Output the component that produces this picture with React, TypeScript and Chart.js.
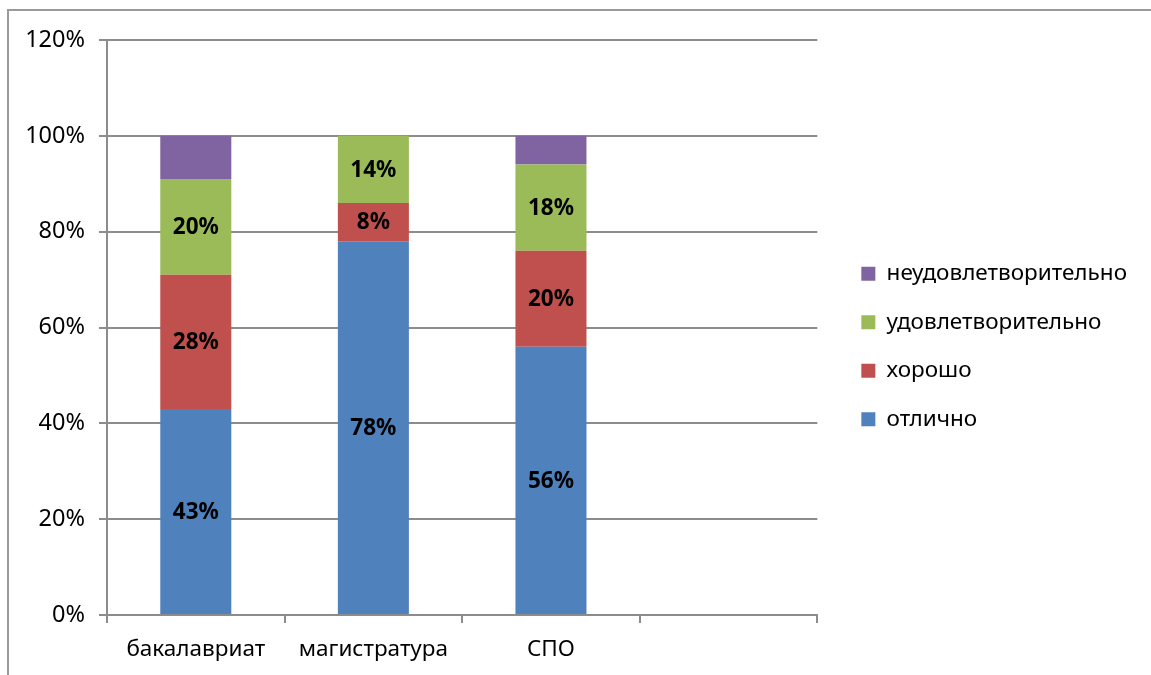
import React, { useEffect, useRef } from 'react';
import { Chart, registerables } from 'chart.js';

Chart.register(...registerables);

// ---- data ----
const categories: string[] = ['бакалавриат', 'магистратура', 'СПО', ''];
const seriesNames: string[] = ['отлично', 'хорошо', 'удовлетворительно', 'неудовлетворительно'];
const excellent: (number | null)[] = [43, 78, 56, null];
const good: (number | null)[] = [28, 8, 20, null];
const satisfactory: (number | null)[] = [20, 14, 18, null];
const unsatisfactory: (number | null)[] = [9, 0, 6, null];
const seriesColors: string[] = ['#4F81BD', '#C0504D', '#9BBB59', '#8064A2'];
const showValueLabels: boolean[] = [true, true, true, false];
const yMax = 120;
const yStep = 20;

const FONT = "'Noto Sans', 'DejaVu Sans', sans-serif";
const TEXT_SIZE = 22.5;
const GRID = '#8c8c8c';

const frameAndBg = {
  id: 'frameAndBg',
  beforeDraw(chart: any) {
    const { ctx, width, height } = chart;
    ctx.save();
    ctx.fillStyle = '#ffffff';
    ctx.fillRect(0, 0, width, height);
    ctx.strokeStyle = '#9a9a9a';
    ctx.lineWidth = 2;
    ctx.beginPath();
    ctx.moveTo(8, height);
    ctx.lineTo(8, 10);
    ctx.lineTo(width, 10);
    ctx.stroke();
    ctx.restore();
  },
};

// nudge the legend block up a little so it sits where the reference has it
const legendNudge = {
  id: 'legendNudge',
  afterLayout(chart: any) {
    const l = chart.legend;
    if (!l) return;
    l.top -= 11;
    l.bottom -= 11;
  },
};

const valueLabels = {
  id: 'valueLabels',
  afterDatasetsDraw(chart: any) {
    const { ctx } = chart;
    ctx.save();
    ctx.font = `bold 22.5px ${FONT}`;
    ctx.fillStyle = '#000000';
    ctx.textAlign = 'center';
    ctx.textBaseline = 'middle';
    chart.data.datasets.forEach((ds: any, di: number) => {
      if (!showValueLabels[di]) return;
      const meta = chart.getDatasetMeta(di);
      meta.data.forEach((bar: any, i: number) => {
        const v = ds.data[i];
        if (v === null || v === undefined || v === 0) return;
        const p = bar.getProps(['x', 'y', 'base'], true);
        ctx.fillText(`${v}%`, p.x, (p.y + p.base) / 2 + 1);
      });
    });
    ctx.restore();
  },
};

export default function App() {
  const ref = useRef<HTMLCanvasElement | null>(null);

  useEffect(() => {
    if (!ref.current) return;
    const seriesData = [excellent, good, satisfactory, unsatisfactory];
    const chart = new Chart(ref.current, {
      type: 'bar',
      data: {
        labels: categories,
        datasets: seriesNames.map((name, i) => ({
          label: name,
          data: seriesData[i],
          backgroundColor: seriesColors[i],
          borderWidth: 0,
          categoryPercentage: 1,
          barPercentage: 0.4,
        })),
      },
      options: {
        responsive: false,
        animation: false,
        devicePixelRatio: 1,
        layout: { padding: { top: 40, left: 0, right: 14, bottom: 0 } },
        font: { family: FONT, size: TEXT_SIZE },
        color: '#000000',
        plugins: {
          legend: {
            position: 'right',
            reverse: true,
            maxWidth: 420,
            labels: {
              font: { family: FONT, size: TEXT_SIZE },
              color: '#000000',
              boxWidth: 14,
              boxHeight: 14,
              padding: 26,
            },
          },
          tooltip: { enabled: false },
          title: { display: false },
        },
        scales: {
          x: {
            stacked: true,
            offset: true,
            grid: {
              offset: true,
              drawOnChartArea: false,
              drawTicks: true,
              tickLength: 8,
              color: GRID,
              lineWidth: 2,
            },
            border: { display: true, color: GRID, width: 2 },
            ticks: {
              font: { family: FONT, size: TEXT_SIZE },
              color: '#000000',
              padding: 13,
              maxRotation: 0,
              autoSkip: false,
            },
            afterFit: (s: any) => {
              s.height = 60;
            },
          },
          y: {
            stacked: true,
            min: 0,
            max: yMax,
            grid: {
              color: GRID,
              lineWidth: 2,
              tickLength: 8,
            },
            border: { display: true, color: GRID, width: 2 },
            ticks: {
              stepSize: yStep,
              font: { family: FONT, size: 23.5 },
              color: '#000000',
              padding: 14,
              callback: (v: any) => `${v}%`,
            },
            afterFit: (s: any) => {
              s.width = 107;
            },
          },
          spacer: {
            type: 'linear',
            position: 'right',
            display: true,
            grid: { display: false },
            border: { display: false },
            ticks: { display: false },
            afterFit: (s: any) => {
              s.width = 18;
            },
          },
        },
      },
      plugins: [frameAndBg, legendNudge, valueLabels],
    } as any);
    return () => chart.destroy();
  }, []);

  return (
    <div style={{ position: 'fixed', left: 0, top: 0, width: 1151, height: 675, background: '#fff' }}>
      <canvas ref={ref} width={1151} height={675} style={{ display: 'block' }} />
    </div>
  );
}
